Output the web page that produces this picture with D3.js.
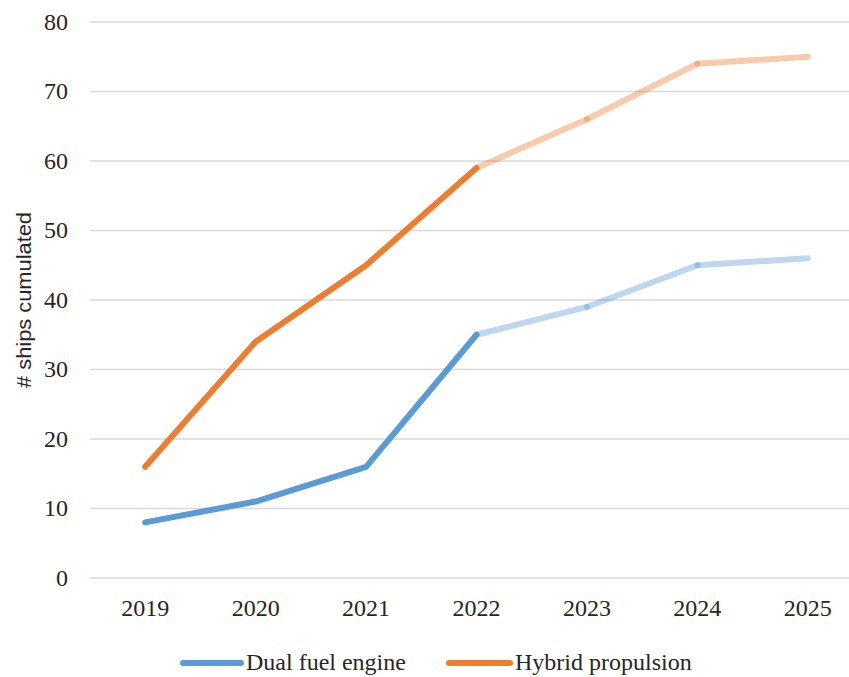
<!DOCTYPE html>
<html>
<head>
<meta charset="utf-8">
<script src="https://cdn.jsdelivr.net/npm/d3@7"></script>
<style>
  html, body { margin: 0; padding: 0; background: #fff; }
  svg { display: block; }
  text { font-family: "Liberation Serif", "Times New Roman", serif; fill: #262626; }
  .axis-title { font-family: "Liberation Sans", Arial, sans-serif; }
</style>
</head>
<body>
<svg id="chart" width="849" height="677"></svg>
<script>
// Cumulated number of ships per year
const years = ["2019", "2020", "2021", "2022", "2023", "2024", "2025"];
const dualFuel = [8, 11, 16, 35, 39, 45, 46];
const hybrid = [16, 34, 45, 59, 66, 74, 75];
const yTicks = [0, 10, 20, 30, 40, 50, 60, 70, 80];
const forecastFrom = "2022"; // years from here on are drawn lighter

const seriesList = [
  { name: "Dual fuel engine", values: dualFuel, color: "#5B9BD5" },
  { name: "Hybrid propulsion", values: hybrid, color: "#ED7D31" }
];

const W = 849, H = 677;
const margin = { left: 90, right: -14, top: 22, bottom: 99 };
const svg = d3.select("#chart");

const x = d3.scalePoint()
  .domain(years)
  .range([margin.left, W - margin.right])
  .padding(0.5);

const y = d3.scaleLinear()
  .domain([0, 80])
  .range([H - margin.bottom, margin.top]);

// horizontal gridlines
svg.append("g")
  .selectAll("line")
  .data(yTicks)
  .join("line")
  .attr("x1", margin.left)
  .attr("x2", W - margin.right)
  .attr("y1", d => y(d))
  .attr("y2", d => y(d))
  .attr("stroke", "#d9d9d9")
  .attr("stroke-width", 1.5);

// y tick labels
svg.append("g")
  .selectAll("text")
  .data(yTicks)
  .join("text")
  .attr("x", 68)
  .attr("y", d => y(d))
  .attr("dy", "0.33em")
  .attr("text-anchor", "end")
  .attr("font-size", 24)
  .text(d => d);

// x tick labels
svg.append("g")
  .selectAll("text")
  .data(years)
  .join("text")
  .attr("x", d => x(d))
  .attr("y", 616)
  .attr("text-anchor", "middle")
  .attr("font-size", 24)
  .text(d => d);

// y axis title
svg.append("text")
  .attr("class", "axis-title")
  .attr("transform", `translate(31, ${y(40)}) rotate(-90)`)
  .attr("text-anchor", "middle")
  .attr("font-size", 20)
  .attr("textLength", 176)
  .attr("lengthAdjust", "spacingAndGlyphs")
  .text("# ships cumulated");

// lines: solid for actual years, one lighter segment per forecast year
const line = d3.line().x(d => x(d.year)).y(d => y(d.value));
const splitIdx = years.indexOf(forecastFrom);

seriesList.forEach(s => {
  const pts = years.map((yr, i) => ({ year: yr, value: s.values[i] }));
  const g = svg.append("g");
  for (let i = splitIdx; i < pts.length - 1; i++) {
    g.append("path")
      .attr("d", line([pts[i], pts[i + 1]]))
      .attr("fill", "none")
      .attr("stroke", s.color)
      .attr("stroke-opacity", 0.4)
      .attr("stroke-width", 6)
      .attr("stroke-linecap", "round");
  }
  g.append("path")
    .attr("d", line(pts.slice(0, splitIdx + 1)))
    .attr("fill", "none")
    .attr("stroke", s.color)
    .attr("stroke-width", 6)
    .attr("stroke-linecap", "round")
    .attr("stroke-linejoin", "round");
});

// legend
const legendPos = [{ x1: 183, x2: 241, tx: 246 }, { x1: 449, x2: 510, tx: 515 }];
const legend = svg.append("g");
seriesList.forEach((s, i) => {
  const p = legendPos[i];
  legend.append("line")
    .attr("x1", p.x1).attr("x2", p.x2)
    .attr("y1", 663).attr("y2", 663)
    .attr("stroke", s.color)
    .attr("stroke-width", 6)
    .attr("stroke-linecap", "round");
  legend.append("text")
    .attr("x", p.tx)
    .attr("y", 670)
    .attr("font-size", 24)
    .text(s.name);
});
</script>
</body>
</html>
